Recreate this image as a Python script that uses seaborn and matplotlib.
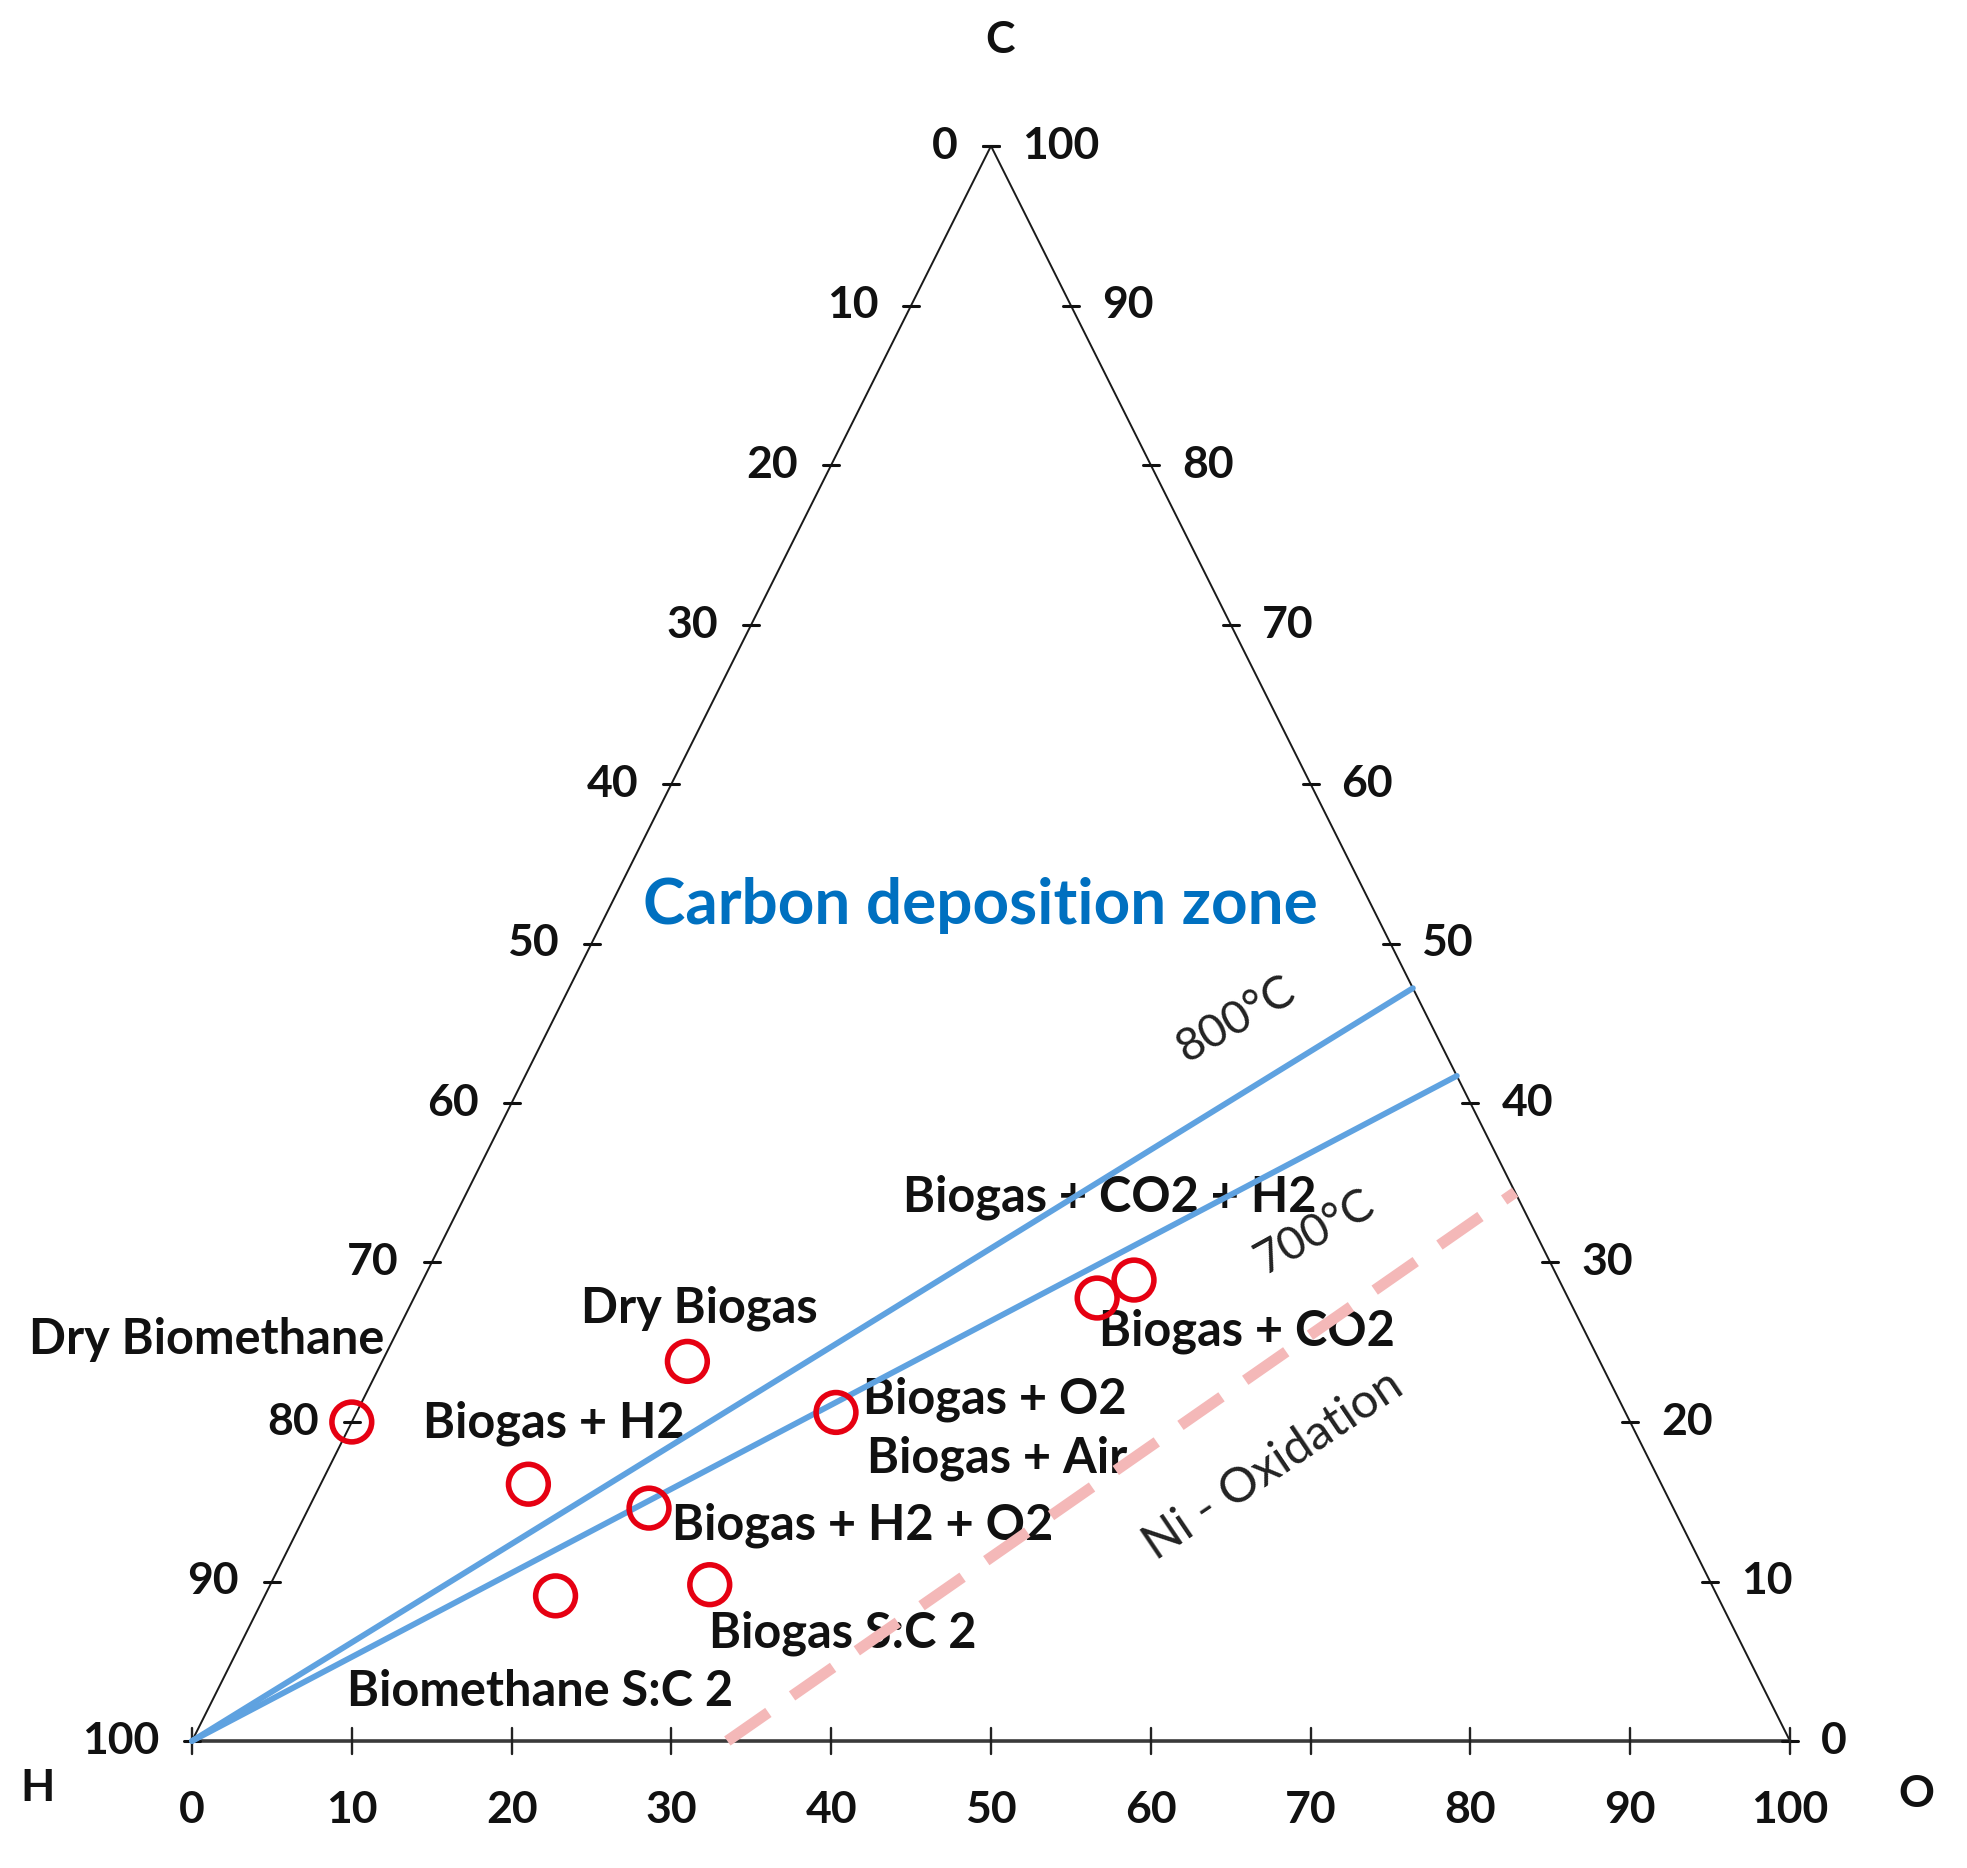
import numpy as np
import pandas as pd
import matplotlib
matplotlib.use("Agg")
import matplotlib.pyplot as plt
import seaborn as sns

# ---------------- data ----------------
tick_values = list(range(0, 101, 10))

point_names = ["Dry Biomethane", "Dry Biogas", "Biogas + H2", "Biogas + H2 + O2",
               "Biomethane S:C 2", "Biogas S:C 2", "Biogas + O2 / Air",
               "Biogas + CO2 a", "Biogas + CO2 b"]
point_H = [80.0, 57.1, 70.9, 64.1, 72.7, 62.7, 49.4, 29.5, 26.6]
point_C = [20.0, 23.8, 16.1, 14.6, 9.1, 9.8, 20.6, 27.8, 28.9]
point_O = [0.0, 19.1, 13.0, 21.3, 18.2, 27.5, 30.0, 42.8, 44.5]

line800_H = [100.0, 0.0]
line800_C = [0.0, 47.2]
line800_O = [0.0, 52.8]

line700_H = [100.0, 0.0]
line700_C = [0.0, 41.7]
line700_O = [0.0, 58.3]

niox_H = [66.5, 0.0]
niox_C = [0.0, 34.4]
niox_O = [33.5, 65.6]

# ---------------- layout ----------------
W, Hpx = 1967, 1868
VH = np.array([192.0, 1741.0])
VC = np.array([991.0, 146.0])
VO = np.array([1790.0, 1741.0])


def tern(h, c, o):
    h, c, o = (np.asarray(v, dtype=float) for v in (h, c, o))
    s = h + c + o
    x = (h * VH[0] + c * VC[0] + o * VO[0]) / s
    y = (h * VH[1] + c * VC[1] + o * VO[1]) / s
    return x, y


sns.set_theme(style="white")
plt.rcParams['font.family'] = ['Lato', 'DejaVu Sans']

fig = plt.figure(figsize=(W / 100, Hpx / 100), dpi=100)
ax = fig.add_axes([0, 0, 1, 1])
ax.set_xlim(0, W)
ax.set_ylim(Hpx, 0)
ax.axis("off")

# triangle edges
ax.plot([VH[0], VC[0]], [VH[1], VC[1]], color="#1a1a1a", lw=1.4, zorder=2)
ax.plot([VC[0], VO[0]], [VC[1], VO[1]], color="#1a1a1a", lw=1.4, zorder=2)
ax.plot([VH[0], VO[0]], [VH[1], VO[1]], color="#3a3a3a", lw=2.6, zorder=2)

tick_fs = 32
tick_kw = dict(fontsize=tick_fs, fontweight="bold", color="#111111")
# left edge: H 0 (apex) -> 100 (H vertex)
for t in tick_values:
    f = t / 100
    p = f * VH + (1 - f) * VC
    ax.plot([p[0] - 8, p[0] + 8], [p[1], p[1]], color="#111111", lw=2.2, zorder=3)
    ax.text(p[0] - 33, p[1], str(t), ha="right", va="center", **tick_kw)
# right edge: C 100 (apex) -> 0 (O vertex)
for t in tick_values:
    f = t / 100
    p = f * VC + (1 - f) * VO
    ax.plot([p[0] - 8, p[0] + 8], [p[1], p[1]], color="#111111", lw=2.2, zorder=3)
    ax.text(p[0] + 31, p[1], str(t), ha="left", va="center", **tick_kw)
# bottom: O 0 -> 100
for t in tick_values:
    f = t / 100
    p = f * VO + (1 - f) * VH
    ax.plot([p[0], p[0]], [p[1] - 13, p[1] + 13], color="#222222", lw=1.7, zorder=3)
    ax.text(p[0], p[1] + 69, str(t), ha="center", va="center", **tick_kw)

# vertex labels
ax.text(1000, 40, "C", ha="center", va="center", **tick_kw)
ax.text(38, 1788, "H", ha="center", va="center", **tick_kw)
ax.text(1916, 1794, "O", ha="center", va="center", **tick_kw)

# boundary lines
for hh, cc, oo in [(line800_H, line800_C, line800_O),
                   (line700_H, line700_C, line700_O)]:
    x, y = tern(hh, cc, oo)
    sns.lineplot(x=x, y=y, sort=False, color="#5FA2E0", lw=4.2, ax=ax, zorder=4)

x, y = tern(niox_H, niox_C, niox_O)
sns.lineplot(x=x, y=y, sort=False, color="#F4B8B8", lw=8, ax=ax, zorder=4)
ax.lines[-1].set_dashes([4.5, 2.6])
ax.lines[-1].set_solid_capstyle("butt")

# points
px, py = tern(point_H, point_C, point_O)
df = pd.DataFrame({"x": px, "y": py, "name": point_names})
sns.scatterplot(data=df, x="x", y="y", s=820, marker="o", ax=ax, zorder=6, legend=False)
coll = ax.collections[-1]
coll.set_facecolor("none")
coll.set_edgecolor("#E60012")
coll.set_linewidth(4.0)

# text annotations
ax.text(980, 906, "Carbon deposition zone", ha="center", va="center",
        fontsize=46, fontweight="bold", color="#0070C0")
ax.text(1236, 1019, "800°C", ha="center", va="center", rotation=30,
        fontsize=33, color="#222222")
ax.text(1315, 1232, "700°C", ha="center", va="center", rotation=29,
        fontsize=33, color="#222222")
ax.text(1273, 1465, "Ni - Oxidation", ha="center", va="center", rotation=34,
        fontsize=35, color="#222222")

lab_kw = dict(fontsize=35, fontweight="bold", color="#111111", va="center")
ax.text(1110, 1197, "Biogas + CO2 + H2", ha="center", **lab_kw)
ax.text(699, 1308, "Dry Biogas", ha="center", **lab_kw)
ax.text(207, 1340, "Dry Biomethane", ha="center", **lab_kw)
ax.text(554, 1423, "Biogas + H2", ha="center", **lab_kw)
ax.text(863, 1399, "Biogas + O2", ha="left", **lab_kw)
ax.text(867, 1458, "Biogas + Air", ha="left", **lab_kw)
ax.text(672, 1525, "Biogas + H2 + O2", ha="left", **lab_kw)
ax.text(709, 1633, "Biogas S:C 2", ha="left", **lab_kw)
ax.text(347, 1692, "Biomethane S:C 2", ha="left", **lab_kw)
ax.text(1099, 1331, "Biogas + CO2", ha="left", **lab_kw)

fig.savefig("out.png", dpi=100, facecolor="white")
